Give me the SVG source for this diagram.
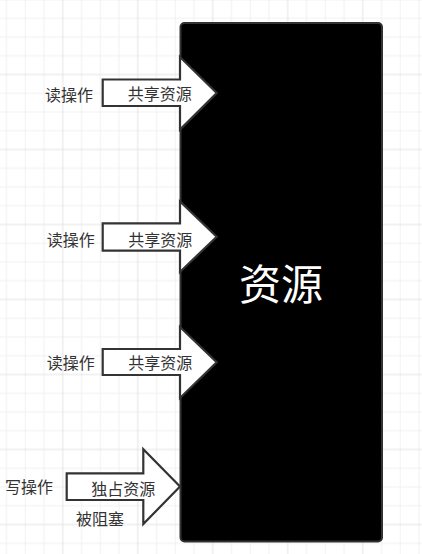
<svg xmlns="http://www.w3.org/2000/svg" width="422" height="554" viewBox="0 0 422 554">
<defs>
<pattern id="grid" patternUnits="userSpaceOnUse" x="-12.25" y="-0.5" width="75" height="75">
<rect x="0" y="0" width="75" height="75" fill="#ffffff"/>
<g fill="#f1f1f1">
<rect x="18.25" y="0" width="1" height="75"/>
<rect x="37" y="0" width="1" height="75"/>
<rect x="55.75" y="0" width="1" height="75"/>
<rect x="0" y="18.25" width="75" height="1"/>
<rect x="0" y="37" width="75" height="1"/>
<rect x="0" y="55.75" width="75" height="1"/>
</g>
<g fill="#e3e3e3">
<rect x="-0.5" y="0" width="1" height="75"/>
<rect x="74.5" y="0" width="1" height="75"/>
<rect x="0" y="-0.5" width="75" height="1"/>
<rect x="0" y="74.5" width="75" height="1"/>
</g>
</pattern>
<style>
.arrow{fill:#ffffff;stroke:#333333;stroke-width:2.2;stroke-linejoin:miter}
.lbl{font-family:"Noto Sans CJK SC","Noto Sans",sans-serif;font-size:16px;fill:#333333;text-anchor:middle}
.big{font-family:"Noto Sans CJK SC","Noto Sans",sans-serif;font-size:42px;fill:#ffffff;text-anchor:middle}
</style>
</defs>
<rect x="0" y="0" width="422" height="554" fill="url(#grid)"/>
<g id="resource">
<rect x="180.5" y="23" width="201.5" height="518.5" rx="4" ry="4" fill="#000000" stroke="#333333" stroke-width="2"/>
<text class="big" x="281" y="299.5">资源</text>
</g>
<g id="connectors">
<g id="arrow1">
<polygon class="arrow" points="102.7,79.5 180,79.5 180,57 216.7,93 180,129.5 180,106 102.7,106"/>
<text class="lbl" x="159.7" y="100.4">共享资源</text>
</g>
<g id="arrow2">
<polygon class="arrow" points="102.7,223.3 180,223.3 180,201.5 216.7,236.7 180,272 180,250.7 102.7,250.7"/>
<text class="lbl" x="160.2" y="246.1">共享资源</text>
</g>
<g id="arrow3">
<polygon class="arrow" points="102.7,349 180,349 180,327 216.7,362.3 180,398 180,375 102.7,375"/>
<text class="lbl" x="160.2" y="369.1">共享资源</text>
</g>
<g id="arrow4">
<polygon class="arrow" points="66.7,473.3 143.3,473.3 143.3,449.3 180,486.6 143.3,524 143.3,500 66.7,500"/>
<text class="lbl" x="123.3" y="495.1">独占资源</text>
</g>
</g>
<g id="read1"><text class="lbl" x="69" y="101.1">读操作</text></g>
<g id="read2"><text class="lbl" x="70.8" y="246.1">读操作</text></g>
<g id="read3"><text class="lbl" x="70.8" y="368.8">读操作</text></g>
<g id="write"><text class="lbl" x="29" y="492.8">写操作</text></g>
<g id="blocked"><text class="lbl" x="100" y="525.1">被阻塞</text></g>
</svg>
